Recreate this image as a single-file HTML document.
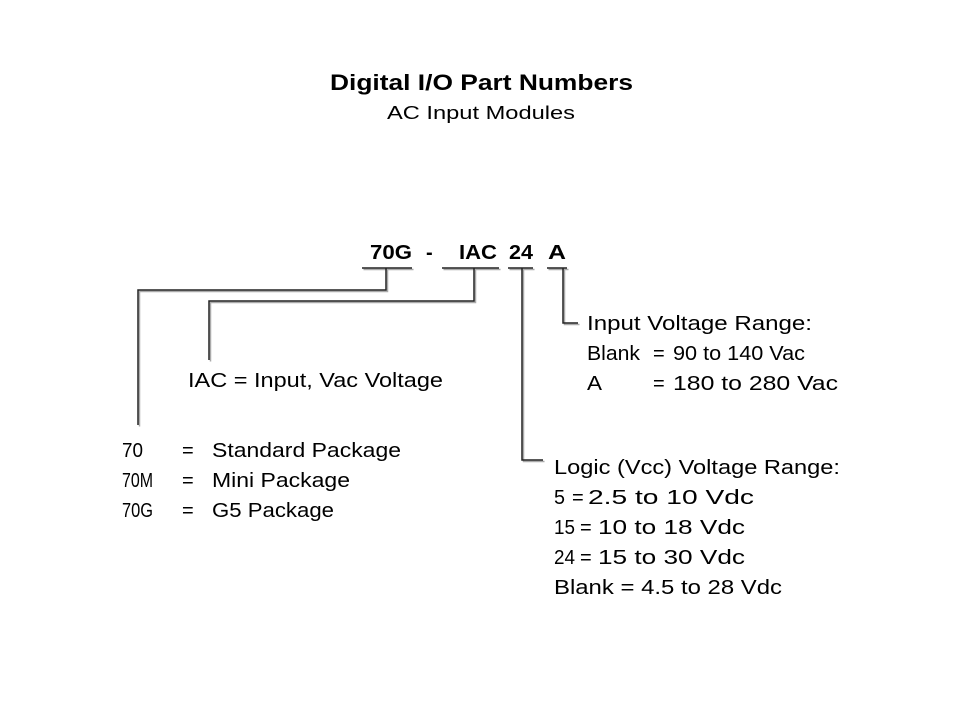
<!DOCTYPE html>
<html><head><meta charset="utf-8"><style>
html,body{margin:0;padding:0;background:#fff}
svg{display:block}
text{font-family:"Liberation Sans",Arial,sans-serif;font-size:20px;fill:#000}
</style></head><body>
<svg width="960" height="720" viewBox="0 0 960 720">
<text x="330" y="90" style="font-size:22px;font-weight:bold" textLength="303" lengthAdjust="spacingAndGlyphs">Digital I/O Part Numbers</text>
<text x="387" y="119" style="font-size:18px" textLength="188" lengthAdjust="spacingAndGlyphs">AC Input Modules</text>

<g font-weight="bold">
<text x="370" y="259" textLength="42" lengthAdjust="spacingAndGlyphs">70G</text>
<text x="426" y="259">-</text>
<text x="459" y="259" textLength="38" lengthAdjust="spacingAndGlyphs">IAC</text>
<text x="509" y="259" textLength="24" lengthAdjust="spacingAndGlyphs">24</text>
<text x="548" y="259" textLength="18" lengthAdjust="spacingAndGlyphs">A</text>
</g>

<g fill="none">
<g stroke="#aaa" stroke-width="1.5" transform="translate(1.5,1.5)">
<path d="M362 268H412M442 268H499M508 268H533M547 268H567"/>
<path d="M386 268V290H138V425"/>
<path d="M474 268V301H209V360"/>
<path d="M522 268V460H543"/>
<path d="M563 268V323H578"/>
</g>
<g stroke="#222" stroke-width="1.5">
<path d="M362 268H412M442 268H499M508 268H533M547 268H567"/>
<path d="M386 268V290H138V425"/>
<path d="M474 268V301H209V360"/>
<path d="M522 268V460H543"/>
<path d="M563 268V323H578"/>
</g>
</g>

<text x="587" y="330" textLength="225" lengthAdjust="spacingAndGlyphs">Input Voltage Range:</text>
<text x="587" y="360" textLength="53" lengthAdjust="spacingAndGlyphs">Blank</text>
<text x="653" y="360">=</text>
<text x="673" y="360" textLength="132" lengthAdjust="spacingAndGlyphs">90 to 140 Vac</text>
<text x="587" y="390" textLength="15" lengthAdjust="spacingAndGlyphs">A</text>
<text x="653" y="390">=</text>
<text x="673" y="390" textLength="165" lengthAdjust="spacingAndGlyphs">180 to 280 Vac</text>

<text x="188" y="387" textLength="255" lengthAdjust="spacingAndGlyphs">IAC = Input, Vac Voltage</text>

<text x="122" y="457" textLength="21" lengthAdjust="spacingAndGlyphs">70</text>
<text x="182" y="457">=</text>
<text x="212" y="457" textLength="189" lengthAdjust="spacingAndGlyphs">Standard Package</text>
<text x="122" y="487" textLength="31" lengthAdjust="spacingAndGlyphs">70M</text>
<text x="182" y="487">=</text>
<text x="212" y="487" textLength="138" lengthAdjust="spacingAndGlyphs">Mini Package</text>
<text x="122" y="517" textLength="31" lengthAdjust="spacingAndGlyphs">70G</text>
<text x="182" y="517">=</text>
<text x="212" y="517" textLength="122" lengthAdjust="spacingAndGlyphs">G5 Package</text>

<text x="554" y="474" textLength="286" lengthAdjust="spacingAndGlyphs">Logic (Vcc) Voltage Range:</text>
<text x="554" y="504" textLength="11" lengthAdjust="spacingAndGlyphs">5</text>
<text x="572" y="504">=</text>
<text x="588" y="504" textLength="166" lengthAdjust="spacingAndGlyphs">2.5 to 10 Vdc</text>
<text x="554" y="534" textLength="21" lengthAdjust="spacingAndGlyphs">15</text>
<text x="580" y="534">=</text>
<text x="598" y="534" textLength="147" lengthAdjust="spacingAndGlyphs">10 to 18 Vdc</text>
<text x="554" y="564" textLength="21" lengthAdjust="spacingAndGlyphs">24</text>
<text x="580" y="564">=</text>
<text x="598" y="564" textLength="147" lengthAdjust="spacingAndGlyphs">15 to 30 Vdc</text>
<text x="554" y="594" textLength="228" lengthAdjust="spacingAndGlyphs">Blank = 4.5 to 28 Vdc</text>
</svg>
</body></html>
